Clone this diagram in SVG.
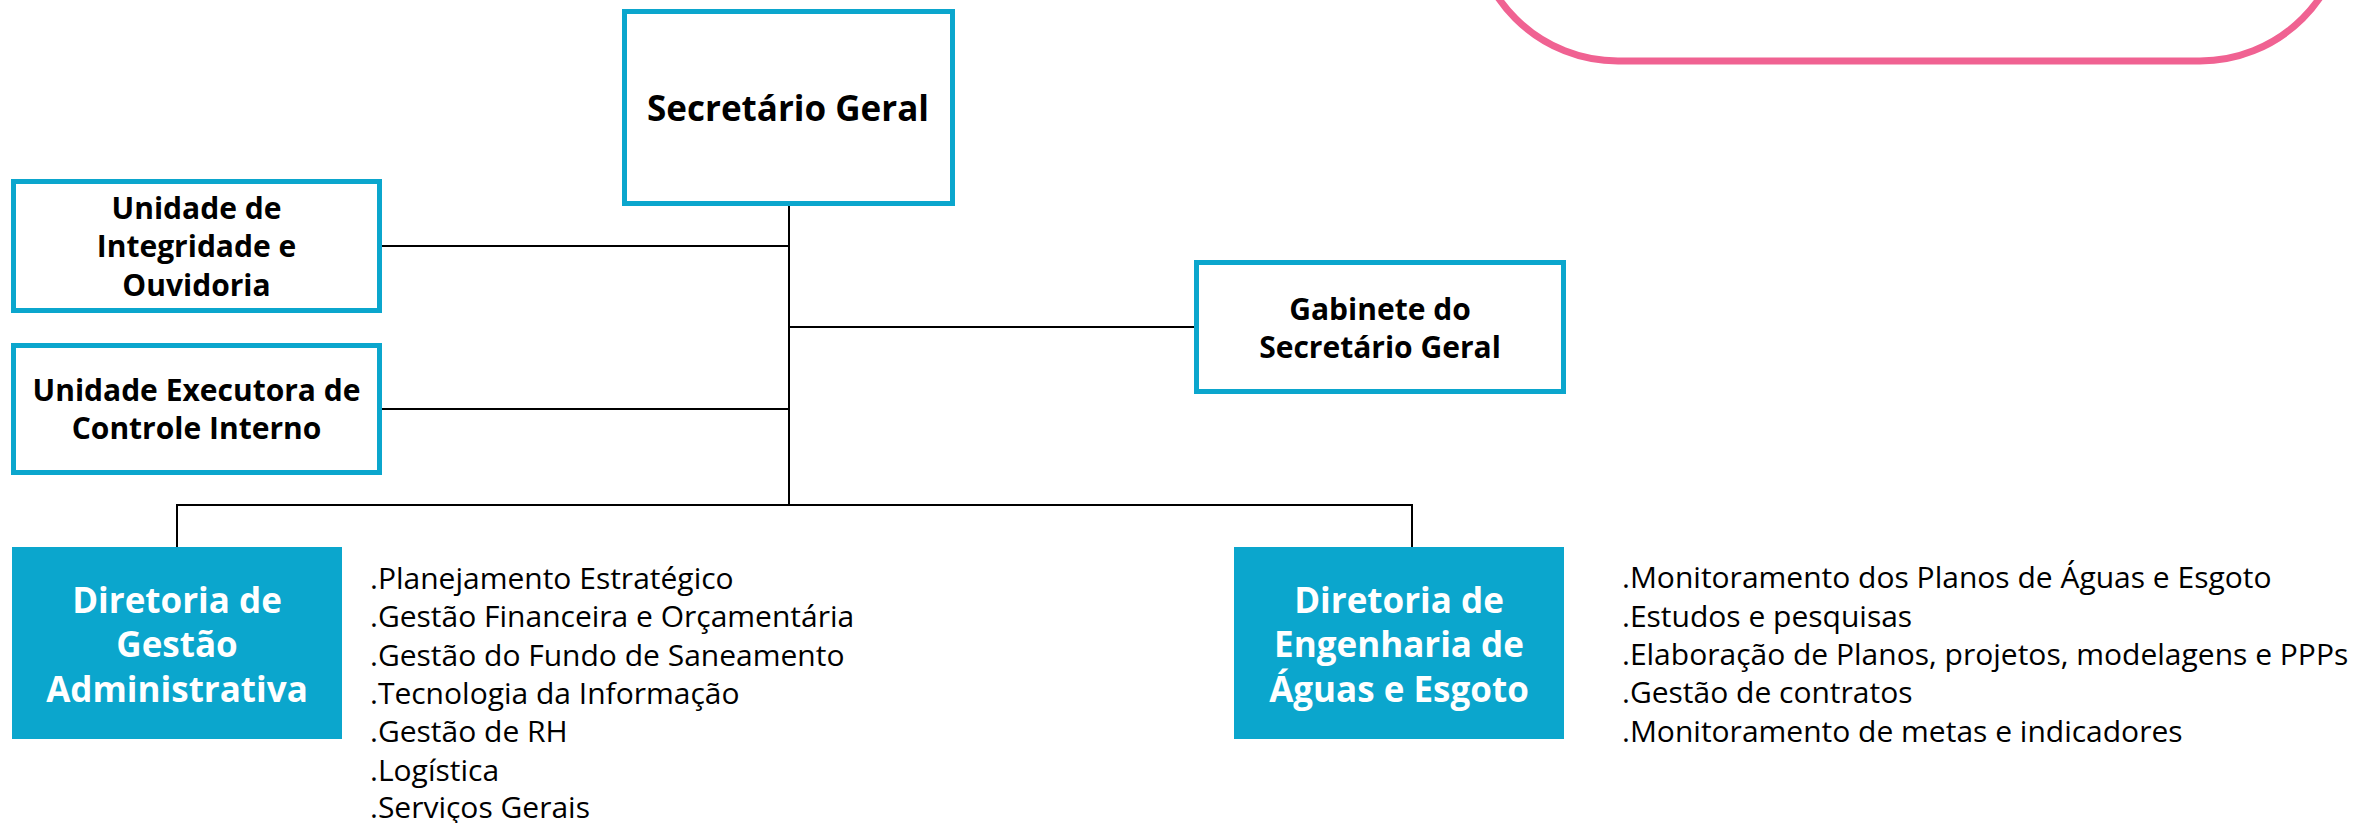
<svg xmlns="http://www.w3.org/2000/svg" width="2354" height="823" viewBox="0 0 2354 823">
<style>
.box{fill:#ffffff;stroke:#0ba6cd;stroke-width:5}
.dir{fill:#0ba6cd}
.lbl{font-family:"Open Sans","Noto Sans",sans-serif;font-weight:bold;font-size:30px;fill:#000;text-anchor:middle}
.title{font-size:35px}
.dlbl{font-family:"Open Sans","Noto Sans",sans-serif;font-weight:bold;font-size:35px;fill:#fff;text-anchor:middle}
.list{font-family:"Open Sans","Noto Sans",sans-serif;font-size:30px;fill:#000}
.conn{stroke:#000;stroke-width:2;fill:none}
</style>
<rect x="1473" y="-300" width="872" height="361" rx="145" ry="145" fill="#ffffff" stroke="#f06292" stroke-width="7"/>
<g id="connectors">
<line class="conn" x1="789" y1="206" x2="789" y2="505"/>
<line class="conn" x1="382" y1="246" x2="789" y2="246"/>
<line class="conn" x1="382" y1="409" x2="789" y2="409"/>
<line class="conn" x1="789" y1="327" x2="1194" y2="327"/>
<polyline class="conn" points="177,547 177,505 1412,505 1412,547"/>
</g>
<g id="secretario-geral">
<rect class="box" x="624.5" y="11.5" width="328" height="192"/>
<text class="lbl title" x="788" y="121">Secretário Geral</text>
</g>
<g id="unidade-integridade">
<rect class="box" x="13.5" y="181.5" width="366" height="129"/>
<text class="lbl" x="196.5" y="219">Unidade de</text>
<text class="lbl" x="196.5" y="257">Integridade e</text>
<text class="lbl" x="196.5" y="296">Ouvidoria</text>
</g>
<g id="unidade-executora">
<rect class="box" x="13.5" y="345.5" width="366" height="127"/>
<text class="lbl" x="196.5" y="401">Unidade Executora de</text>
<text class="lbl" x="196.5" y="439">Controle Interno</text>
</g>
<g id="gabinete">
<rect class="box" x="1196.5" y="262.5" width="367" height="129"/>
<text class="lbl" x="1380" y="320">Gabinete do</text>
<text class="lbl" x="1380" y="358">Secretário Geral</text>
</g>
<g id="diretoria-gestao">
<rect class="dir" x="12" y="547" width="330" height="192"/>
<text class="dlbl" x="177" y="613">Diretoria de</text>
<text class="dlbl" x="177" y="657">Gestão</text>
<text class="dlbl" x="177" y="702">Administrativa</text>
<text class="list" x="370" y="589">.Planejamento Estratégico</text>
<text class="list" x="370" y="627">.Gestão Financeira e Orçamentária</text>
<text class="list" x="370" y="666">.Gestão do Fundo de Saneamento</text>
<text class="list" x="370" y="704">.Tecnologia da Informação</text>
<text class="list" x="370" y="742">.Gestão de RH</text>
<text class="list" x="370" y="781">.Logística</text>
<text class="list" x="370" y="818">.Serviços Gerais</text>
</g>
<g id="diretoria-engenharia">
<rect class="dir" x="1234" y="547" width="330" height="192"/>
<text class="dlbl" x="1399" y="613">Diretoria de</text>
<text class="dlbl" x="1399" y="657">Engenharia de</text>
<text class="dlbl" x="1399" y="702">Águas e Esgoto</text>
<text class="list" x="1622" y="588">.Monitoramento dos Planos de Águas e Esgoto</text>
<text class="list" x="1622" y="627">.Estudos e pesquisas</text>
<text class="list" x="1622" y="665">.Elaboração de Planos, projetos, modelagens e PPPs</text>
<text class="list" x="1622" y="703">.Gestão de contratos</text>
<text class="list" x="1622" y="742">.Monitoramento de metas e indicadores</text>
</g>
</svg>
